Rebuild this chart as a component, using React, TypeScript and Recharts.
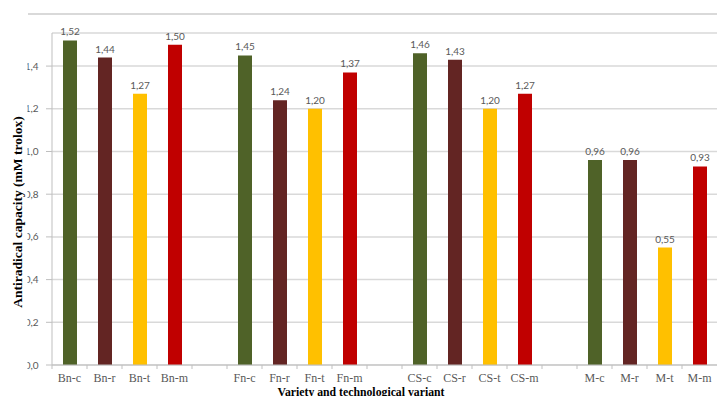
import React from 'react';
import { BarChart, Bar, XAxis, YAxis, CartesianGrid, Cell, LabelList } from 'recharts';

// Variety groups, each with four technological variants; '' marks the spacer between groups
const categories = [
  'Bn-c', 'Bn-r', 'Bn-t', 'Bn-m', '',
  'Fn-c', 'Fn-r', 'Fn-t', 'Fn-m', '',
  'CS-c', 'CS-r', 'CS-t', 'CS-m', '',
  'M-c', 'M-r', 'M-t', 'M-m',
];

// Antiradical capacity in mM trolox (null for spacer slots)
const capacity: (number | null)[] = [
  1.52, 1.44, 1.27, 1.5, null,
  1.45, 1.24, 1.2, 1.37, null,
  1.46, 1.43, 1.2, 1.27, null,
  0.96, 0.96, 0.55, 0.93,
];

const yTicks = [0, 0.2, 0.4, 0.6, 0.8, 1.0, 1.2, 1.4];

// Colour per variant suffix
const variantColors: Record<string, string> = {
  c: '#4f6228',
  r: '#632523',
  t: '#ffc000',
  m: '#c00000',
};

const data = categories.map((name, i) => ({ name, value: capacity[i] }));

const colorFor = (name: string) => variantColors[name.split('-')[1]] ?? 'transparent';

const serif = "'Liberation Serif', 'Times New Roman', serif";
const sans = "Lato, Carlito, 'Liberation Sans', sans-serif";

const comma = (v: number, digits: number) => v.toFixed(digits).replace('.', ',');

// Left edge of the value-axis labels hidden behind the axis title's box
const TITLE_BOX_RIGHT = 27.5;

// Category label centred in its slot with a tick mark on the slot boundary
const CategoryTick = (props: any) => {
  const { x, y, payload } = props;
  const half = payload?.offset ?? 0;
  return (
    <g>
      <line x1={x - half} x2={x - half} y1={y - 4} y2={y} stroke="#bfbfbf" strokeWidth={1} />
      <text
        x={x}
        y={y + 13}
        textAnchor="middle"
        fontFamily={serif}
        fontSize={12}
        fill="#595959"
      >
        {payload?.value}
      </text>
    </g>
  );
};

// Value-axis label, clipped where the title box overlaps it
const ValueTick = (props: any) => {
  const { x, y, payload, index } = props;
  const id = `value-tick-clip-${index}`;
  return (
    <g>
      <defs>
        <clipPath id={id}>
          <rect x={TITLE_BOX_RIGHT} y={y - 10} width={40} height={20} />
        </clipPath>
      </defs>
      <text
        x={x}
        y={y}
        dy="0.355em"
        textAnchor="end"
        fontFamily={sans}
        fontSize={10}
        fill="#595959"
        clipPath={`url(#${id})`}
      >
        {comma(Number(payload?.value), 1)}
      </text>
    </g>
  );
};

export default function App() {
  return (
    <div style={{ position: 'absolute', left: 0, top: 0, width: 717, height: 396, background: '#ffffff' }}>
      <BarChart
        width={717}
        height={396}
        data={data}
        margin={{ top: 33, right: 0, bottom: 0, left: 0 }}
        barSize={14}
      >
        <CartesianGrid vertical={false} stroke="#d9d9d9" strokeWidth={1.5} />
        <XAxis
          dataKey="name"
          height={31}
          interval={0}
          tickLine={false}
          tickSize={4}
          tickMargin={0}
          axisLine={{ stroke: '#bfbfbf' }}
          tick={<CategoryTick />}
        />
        <YAxis
          width={52}
          domain={[0, 1.555]}
          ticks={yTicks}
          allowDataOverflow
          tickSize={6}
          tickMargin={7.5}
          tickLine={{ stroke: '#bfbfbf' }}
          axisLine={{ stroke: '#bfbfbf' }}
          tick={<ValueTick />}
        />
        <Bar dataKey="value" isAnimationActive={false}>
          {data.map((d, i) => (
            <Cell key={i} fill={colorFor(d.name)} />
          ))}
          <LabelList
            dataKey="value"
            position="top"
            offset={5}
            fill="#595959"
            fontFamily={sans}
            fontSize={10}
            formatter={(v: any) => (v == null ? '' : comma(Number(v), 2))}
          />
        </Bar>
        <line x1={28} y1={14} x2={717} y2={14} stroke="#d9d9d9" strokeWidth={2} />
        <text
          x={22}
          y={212}
          transform="rotate(-90 22 212)"
          textAnchor="middle"
          fontFamily={serif}
          fontWeight="bold"
          fontSize={13.5}
          fill="#000000"
        >
          Antiradical capacity (mM trolox)
        </text>
        <text
          x={361}
          y={396}
          textAnchor="middle"
          fontFamily={serif}
          fontWeight="bold"
          fontSize={11.75}
          fill="#000000"
        >
          Variety and technological variant
        </text>
      </BarChart>
    </div>
  );
}
